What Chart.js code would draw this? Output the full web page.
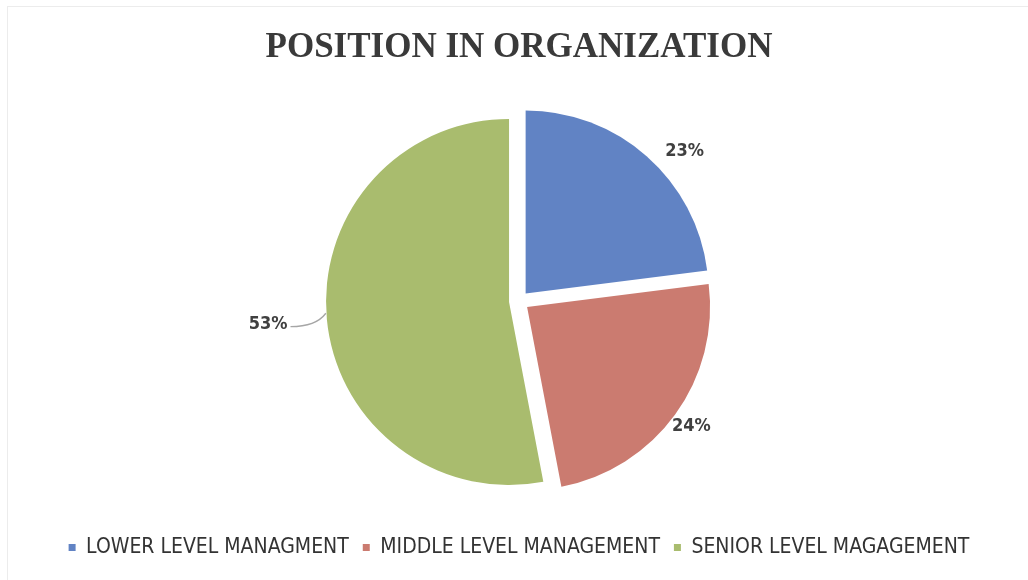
<!DOCTYPE html>
<html>
<head>
<meta charset="utf-8">
<script src="https://cdn.jsdelivr.net/npm/chart.js@4"></script>
<style>
  html, body { margin: 0; padding: 0; background: #fff; }
  #wrap { position: relative; width: 1028px; height: 580px; }
  #frame {
    position: absolute; left: 7px; top: 6px; right: 0; bottom: 0;
    border-left: 1px solid #ececec; border-top: 1px solid #ececec;
    pointer-events: none;
  }
</style>
</head>
<body>
<div id="wrap">
  <canvas id="positionChart" width="1028" height="580"></canvas>
  <div id="frame"></div>
</div>
<script>
const categories = ['LOWER LEVEL MANAGMENT', 'MIDDLE LEVEL MANAGEMENT', 'SENIOR LEVEL MAGAGEMENT'];
const shares = [23, 24, 53];
const sliceColors = ['#6183c4', '#cb7b70', '#a9bc6e'];

const explode = 10;

const midAngle = (arc) => {
  const { startAngle, endAngle } = arc.getProps(['startAngle', 'endAngle'], true);
  return (startAngle + endAngle) / 2;
};

// pull every slice out from the centre by the same distance
const explodedSlices = {
  id: 'explodedSlices',
  beforeDatasetsDraw(chart) {
    const ctx = chart.ctx;
    chart.getDatasetMeta(0).data.forEach((arc) => {
      const mid = midAngle(arc);
      ctx.save();
      ctx.translate(Math.cos(mid) * explode, Math.sin(mid) * explode);
      arc.draw(ctx, chart.chartArea);
      ctx.restore();
    });
    return false;
  }
};

// percentage labels outside each slice, with a leader line when far out
const pieLabels = {
  id: 'pieLabels',
  afterDraw(chart) {
    const ctx = chart.ctx;
    const meta = chart.getDatasetMeta(0);
    const labelDist = [30, 20, 59];
    const angleNudge = [0.12, 0, 0];
    meta.data.forEach((arc, i) => {
      const { x, y, outerRadius } = arc.getProps(['x', 'y', 'outerRadius'], true);
      const mid = midAngle(arc);
      const cx = x + Math.cos(mid) * explode;
      const cy = y + Math.sin(mid) * explode;
      const a = mid + angleNudge[i];
      const r = outerRadius + labelDist[i];
      const lx = cx + Math.cos(a) * r;
      const ly = cy + Math.sin(a) * r;
      const text = shares[i] + '%';
      ctx.save();
      ctx.font = 'bold 18px "Liberation Sans Narrow", "DejaVu Sans Condensed", sans-serif';
      ctx.fillStyle = '#404040';
      ctx.textAlign = 'center';
      ctx.textBaseline = 'middle';
      ctx.fillText(text, lx, ly);
      if (labelDist[i] > 50) {
        const w = ctx.measureText(text).width;
        const ex = cx + Math.cos(a) * (outerRadius + 1);
        const ey = cy + Math.sin(a) * (outerRadius + 1) - 6;
        ctx.strokeStyle = '#a6a6a6';
        ctx.lineWidth = 1.3;
        ctx.beginPath();
        ctx.moveTo(lx + w / 2 + 3, ly + 2);
        ctx.quadraticCurveTo(ex - 10, ly + 2, ex, ey);
        ctx.stroke();
      }
      ctx.restore();
    });
  }
};

new Chart(document.getElementById('positionChart'), {
  type: 'pie',
  data: {
    labels: categories,
    datasets: [{
      data: shares,
      backgroundColor: sliceColors,
      borderWidth: 0,
      radius: 183
    }]
  },
  options: {
    responsive: false,
    animation: false,
    layout: { padding: { left: 10, bottom: 12 } },
    plugins: {
      title: {
        display: true,
        text: 'POSITION IN ORGANIZATION',
        color: '#3a3a3a',
        font: { family: '"Liberation Serif", "Times New Roman", serif', size: 35, weight: 'bold' },
        padding: { top: 27, bottom: 10 }
      },
      legend: {
        position: 'bottom',
        labels: {
          color: '#333',
          boxWidth: 7,
          boxHeight: 7,
          padding: 14,
          font: { family: '"Liberation Sans Narrow", "DejaVu Sans Condensed", sans-serif', size: 21 }
        }
      },
      tooltip: { enabled: false }
    }
  },
  plugins: [explodedSlices, pieLabels]
});
</script>
</body>
</html>
